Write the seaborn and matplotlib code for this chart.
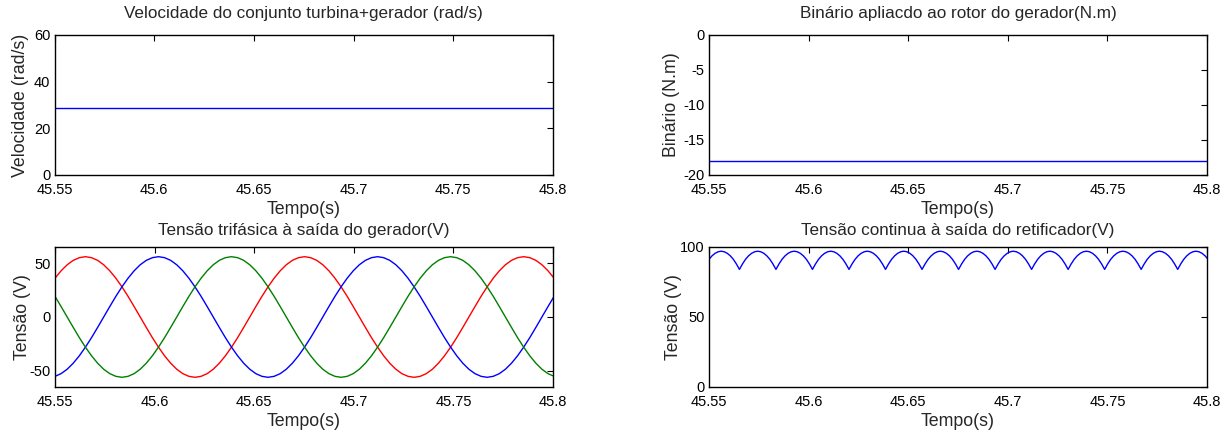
import numpy as np
import pandas as pd
import matplotlib
matplotlib.use("Agg")
import matplotlib.pyplot as plt
import seaborn as sns

# ---------------- data ----------------
x_ticks = [45.55, 45.6, 45.65, 45.7, 45.75, 45.8]
x_ticklabels = ["45.55", "45.6", "45.65", "45.7", "45.75", "45.8"]

# constant signals (start/end of window)
speed_t = [45.55, 45.80]
speed_v = [28.6, 28.6]
torque_t = [45.55, 45.80]
torque_v = [-18.0, -18.0]

# three-phase voltages, sampled every 0.11/36 s
phase_t = np.linspace(45.55, 45.55 + 82 * 0.11 / 36, 83)
cycle = [56.0, 55.1, 52.6, 48.5, 42.9, 36.0, 28.0, 19.2, 9.7, 0.0,
         -9.7, -19.2, -28.0, -36.0, -42.9, -48.5, -52.6, -55.1, -56.0,
         -55.1, -52.6, -48.5, -42.9, -36.0, -28.0, -19.2, -9.7, 0.0,
         9.7, 19.2, 28.0, 36.0, 42.9, 48.5, 52.6, 55.1]
va_red = [36.0, 42.9, 48.5, 52.6, 55.1] + cycle + cycle + \
    [56.0, 55.1, 52.6, 48.5, 42.9, 36.0]
vb_blue = [-55.1, -52.6, -48.5, -42.9, -36.0, -28.0, -19.2, -9.7, 0.0,
           9.7, 19.2, 28.0, 36.0, 42.9, 48.5, 52.6, 55.1] + cycle + \
    [56.0, 55.1, 52.6, 48.5, 42.9, 36.0, 28.0, 19.2, 9.7, 0.0,
     -9.7, -19.2, -28.0, -36.0, -42.9, -48.5, -52.6, -55.1, -56.0,
     -55.1, -52.6, -48.5, -42.9, -36.0, -28.0, -19.2, -9.7, 0.0, 9.7, 19.2]
vc_green = [19.2, 9.7, 0.0, -9.7, -19.2, -28.0, -36.0, -42.9, -48.5,
            -52.6, -55.1, -56.0, -55.1, -52.6, -48.5, -42.9, -36.0, -28.0,
            -19.2, -9.7, 0.0, 9.7, 19.2, 28.0, 36.0, 42.9, 48.5, 52.6,
            55.1] + cycle + \
    [56.0, 55.1, 52.6, 48.5, 42.9, 36.0, 28.0, 19.2, 9.7, 0.0,
     -9.7, -19.2, -28.0, -36.0, -42.9, -48.5, -52.6, -55.1]

# rectified DC voltage, sampled every 0.11/72 s
dc_t = np.linspace(45.55, 45.55 + 164 * 0.11 / 72, 165)
ripple = [91.2, 93.7, 95.5, 96.6, 97.0, 96.6, 95.5, 93.7, 91.2, 87.9, 84.0, 87.9]
dc_v = ripple * 13 + [91.2, 93.7, 95.5, 96.6, 97.0, 96.6, 95.5, 93.7, 91.2]

# ---------------- style ----------------
sns.set_theme(style="white")
plt.rcParams['font.family'] = ['Liberation Sans', 'DejaVu Sans']
plt.rcParams['axes.edgecolor'] = 'black'
plt.rcParams['axes.linewidth'] = 1.0

fig = plt.figure(figsize=(12.27, 4.37), dpi=100)
W, H = 1227, 437


def make_ax(x0, y0, x1, y1):
    return fig.add_axes([x0 / W, 1 - y1 / H, (x1 - x0) / W, (y1 - y0) / H])


ax1 = make_ax(54.5, 35, 553, 175)
ax2 = make_ax(709, 35, 1207, 175)
ax3 = make_ax(55, 247, 553, 387)
ax4 = make_ax(709, 247, 1207, 387)

BLUE = (0, 0, 1)
RED = (1, 0, 0)
GREEN = (0, 0.5, 0)

sns.lineplot(x=speed_t, y=speed_v, ax=ax1, color=BLUE, linewidth=1.0, estimator=None)
sns.lineplot(x=torque_t, y=torque_v, ax=ax2, color=BLUE, linewidth=1.0, estimator=None)
sns.lineplot(x=phase_t, y=va_red, ax=ax3, color=RED, linewidth=1.0, estimator=None)
sns.lineplot(x=phase_t, y=vb_blue, ax=ax3, color=BLUE, linewidth=1.0, estimator=None)
sns.lineplot(x=phase_t, y=vc_green, ax=ax3, color=GREEN, linewidth=1.0, estimator=None)
sns.lineplot(x=dc_t, y=dc_v, ax=ax4, color=BLUE, linewidth=1.0, estimator=None)

settings = [
    (ax1, "Velocidade do conjunto turbina+gerador (rad/s)", "Velocidade (rad/s)",
     (0, 60), [0, 20, 40, 60], 12.5, 3.3),
    (ax2, "Binário apliacdo ao rotor do gerador(N.m)", "Binário (N.m)",
     (-20, 0), [-20, -15, -10, -5, 0], 12.5, 2.6),
    (ax3, "Tensão trifásica à saída do gerador(V)", "Tensão (V)",
     (-65, 65), [-50, 0, 50], 9.0, -1.0),
    (ax4, "Tensão continua à saída do retificador(V)", "Tensão (V)",
     (0, 100), [0, 50, 100], 9.0, -1.0),
]

for ax, title, ylabel, ylim, yticks, tpad, ypad in settings:
    ax.set_xlim(45.55, 45.8)
    ax.set_ylim(*ylim)
    ax.set_xticks(x_ticks)
    ax.set_xticklabels(x_ticklabels)
    ax.set_yticks(yticks)
    ax.set_yticklabels([str(v) for v in yticks])
    ax.set_title(title, fontsize=12.3, pad=tpad)
    ax.set_xlabel("Tempo(s)", fontsize=12.8, labelpad=3)
    ax.set_ylabel(ylabel, fontsize=12.8, labelpad=ypad)
    ax.tick_params(direction='in', length=4, width=0.8, top=True, right=True,
                   labelsize=10.5, colors='black')
    ax.tick_params(axis='x', pad=6)
    ax.tick_params(axis='y', pad=3)
    for s in ax.spines.values():
        s.set_visible(True)
        s.set_color('black')

fig.savefig("out.png", dpi=100, facecolor='white')
